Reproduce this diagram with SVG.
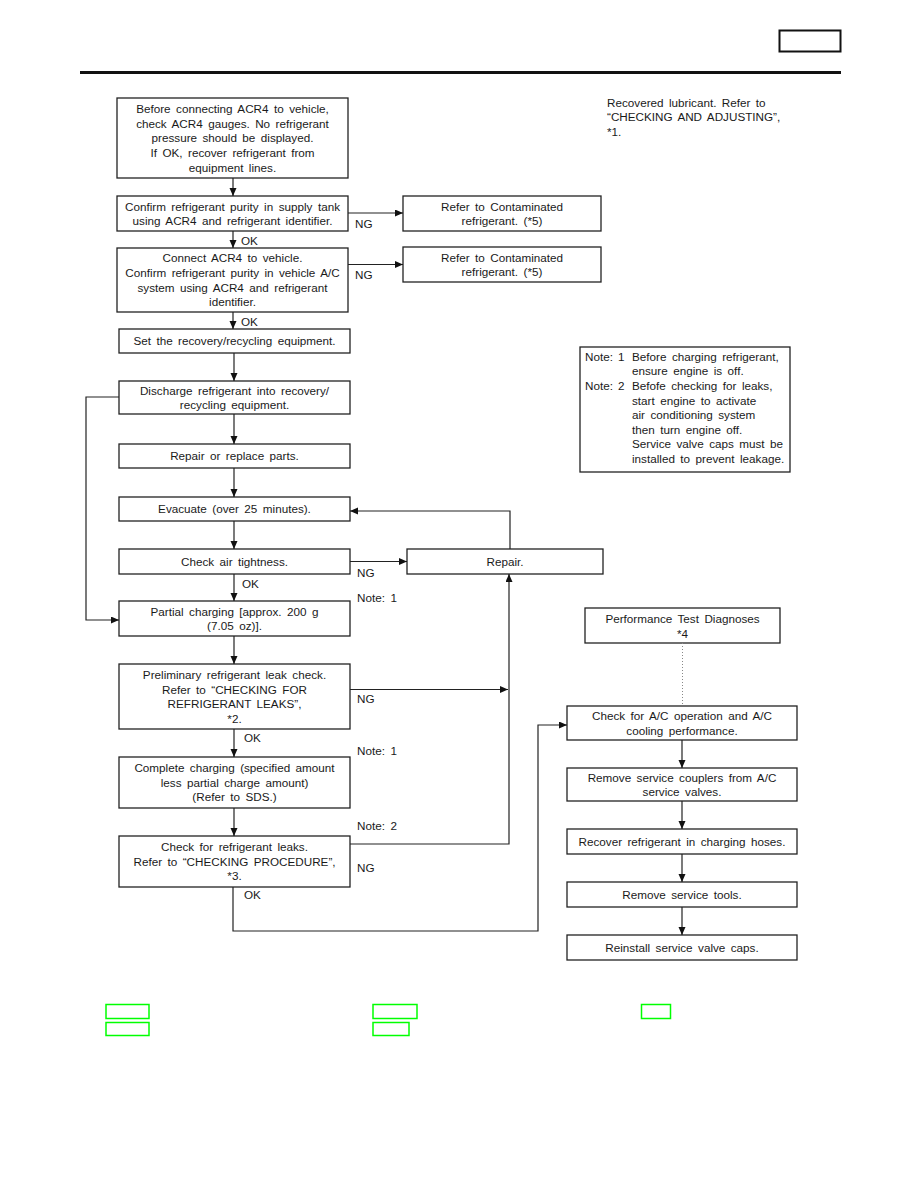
<svg xmlns="http://www.w3.org/2000/svg" width="918" height="1188" viewBox="0 0 918 1188">
<style>
text{font-family:"Liberation Sans",Arial,Helvetica,sans-serif;font-size:11.7px;fill:#1a1a1a;word-spacing:2.2px}
.c{text-anchor:middle}
.nt{word-spacing:1.6px}
.box{fill:#fff;stroke:#222;stroke-width:1.3}
.ln{fill:none;stroke:#222;stroke-width:1.2}
.dot{fill:none;stroke:#888;stroke-width:1;stroke-dasharray:1 2}
.g{fill:none;stroke:#00ff00;stroke-width:1.5}
</style>
<defs>
<marker id="ah" markerUnits="userSpaceOnUse" markerWidth="8" markerHeight="8" refX="8" refY="3.5" orient="auto">
<path d="M0,0 L8,3.5 L0,7 z" fill="#111"/>
</marker>
</defs>
<rect width="918" height="1188" fill="#fff"/>
<g id="header">
<rect x="779.5" y="30.5" width="61" height="21" fill="none" stroke="#111" stroke-width="2"/>
<line x1="80" y1="72.5" x2="841" y2="72.5" stroke="#111" stroke-width="3.2"/>
</g>
<g id="recovered-note" class="nt">
<text x="607" y="106.7">Recovered lubricant. Refer to</text>
<text x="607" y="121.3">“CHECKING AND ADJUSTING”,</text>
<text x="607" y="136">*1.</text>
</g>
<g id="notes" class="nt">
<rect class="box" x="580" y="347" width="210" height="125"/>
<text x="585" y="360.7">Note:</text><text x="618" y="360.7">1</text><text x="632" y="360.7">Before charging refrigerant,</text>
<text x="632" y="375.3">ensure engine is off.</text>
<text x="585" y="390">Note:</text><text x="618" y="390">2</text><text x="632" y="390">Befofe checking for leaks,</text>
<text x="632" y="404.6">start engine to activate</text>
<text x="632" y="419.2">air conditioning system</text>
<text x="632" y="433.8">then turn engine off.</text>
<text x="632" y="448.4">Service valve caps must be</text>
<text x="632" y="463">installed to prevent leakage.</text>
</g>
<g id="n1">
<rect class="box" x="117" y="98" width="231" height="80"/>
<text class="c" x="232.5" y="113.1">Before connecting ACR4 to vehicle,</text>
<text class="c" x="232.5" y="127.7">check ACR4 gauges. No refrigerant</text>
<text class="c" x="232.5" y="142.3">pressure should be displayed.</text>
<text class="c" x="232.5" y="156.9">If OK, recover refrigerant from</text>
<text class="c" x="232.5" y="171.5">equipment lines.</text>
</g>
<g id="n2">
<rect class="box" x="117" y="196" width="231" height="35"/>
<text class="c" x="232.5" y="210.5">Confirm refrigerant purity in supply tank</text>
<text class="c" x="232.5" y="225.1">using ACR4 and refrigerant identifier.</text>
</g>
<g id="n3">
<rect class="box" x="117" y="248" width="231" height="64"/>
<text class="c" x="232.5" y="262.4">Connect ACR4 to vehicle.</text>
<text class="c" x="232.5" y="277">Confirm refrigerant purity in vehicle A/C</text>
<text class="c" x="232.5" y="291.6">system using ACR4 and refrigerant</text>
<text class="c" x="232.5" y="306.2">identifier.</text>
</g>
<g id="r1">
<rect class="box" x="403" y="196" width="198" height="35"/>
<text class="c" x="502" y="210.5">Refer to Contaminated</text>
<text class="c" x="502" y="225.1">refrigerant. (*5)</text>
</g>
<g id="r2">
<rect class="box" x="403" y="247" width="198" height="35"/>
<text class="c" x="502" y="261.5">Refer to Contaminated</text>
<text class="c" x="502" y="276.1">refrigerant. (*5)</text>
</g>
<g id="n4">
<rect class="box" x="119" y="329" width="231" height="24"/>
<text class="c" x="234.5" y="345.3">Set the recovery/recycling equipment.</text>
</g>
<g id="n5">
<rect class="box" x="119" y="381" width="231" height="33"/>
<text class="c" x="234.5" y="394.5">Discharge refrigerant into recovery/</text>
<text class="c" x="234.5" y="409.1">recycling equipment.</text>
</g>
<g id="n6">
<rect class="box" x="119" y="444" width="231" height="24"/>
<text class="c" x="234.5" y="460.3">Repair or replace parts.</text>
</g>
<g id="n7">
<rect class="box" x="119" y="497" width="231" height="24"/>
<text class="c" x="234.5" y="513.3">Evacuate (over 25 minutes).</text>
</g>
<g id="n8">
<rect class="box" x="119" y="549" width="231" height="25"/>
<text class="c" x="234.5" y="565.8">Check air tightness.</text>
</g>
<g id="repair">
<rect class="box" x="407" y="549" width="196" height="25"/>
<text class="c" x="505" y="565.8">Repair.</text>
</g>
<g id="n9">
<rect class="box" x="119" y="601" width="231" height="35"/>
<text class="c" x="234.5" y="615.5">Partial charging [approx. 200 g</text>
<text class="c" x="234.5" y="630.1">(7.05 oz)].</text>
</g>
<g id="n10">
<rect class="box" x="119" y="664" width="231" height="65"/>
<text class="c" x="234.5" y="679">Preliminary refrigerant leak check.</text>
<text class="c" x="234.5" y="693.6">Refer to “CHECKING FOR</text>
<text class="c" x="234.5" y="708.2">REFRIGERANT LEAKS”,</text>
<text class="c" x="234.5" y="722.8">*2.</text>
</g>
<g id="n11">
<rect class="box" x="119" y="757" width="231" height="51"/>
<text class="c" x="234.5" y="772.2">Complete charging (specified amount</text>
<text class="c" x="234.5" y="786.8">less partial charge amount)</text>
<text class="c" x="234.5" y="801.4">(Refer to SDS.)</text>
</g>
<g id="n12">
<rect class="box" x="119" y="836" width="231" height="51"/>
<text class="c" x="234.5" y="851.2">Check for refrigerant leaks.</text>
<text class="c" x="234.5" y="865.8">Refer to “CHECKING PROCEDURE”,</text>
<text class="c" x="234.5" y="880.4">*3.</text>
</g>
<g id="p0">
<rect class="box" x="585" y="608" width="195" height="35"/>
<text class="c" x="682.5" y="623">Performance Test Diagnoses</text>
<text class="c" x="682.5" y="637.6">*4</text>
</g>
<g id="p1">
<rect class="box" x="567" y="706" width="230" height="34"/>
<text class="c" x="682" y="720">Check for A/C operation and A/C</text>
<text class="c" x="682" y="734.6">cooling performance.</text>
</g>
<g id="p2">
<rect class="box" x="567" y="768" width="230" height="33"/>
<text class="c" x="682" y="781.5">Remove service couplers from A/C</text>
<text class="c" x="682" y="796.1">service valves.</text>
</g>
<g id="p3">
<rect class="box" x="567" y="829" width="230" height="25"/>
<text class="c" x="682" y="845.8">Recover refrigerant in charging hoses.</text>
</g>
<g id="p4">
<rect class="box" x="567" y="882" width="230" height="25"/>
<text class="c" x="682" y="898.8">Remove service tools.</text>
</g>
<g id="p5">
<rect class="box" x="567" y="935" width="230" height="25"/>
<text class="c" x="682" y="951.8">Reinstall service valve caps.</text>
</g>
<g id="connectors">
<path class="ln" marker-end="url(#ah)" d="M233,178 V196"/>
<path class="ln" marker-end="url(#ah)" d="M233,231 V248"/>
<path class="ln" marker-end="url(#ah)" d="M348,213 H403"/>
<path class="ln" marker-end="url(#ah)" d="M348,264.5 H403"/>
<path class="ln" marker-end="url(#ah)" d="M233,312 V329"/>
<path class="ln" marker-end="url(#ah)" d="M234,353 V381"/>
<path class="ln" marker-end="url(#ah)" d="M234,414 V444"/>
<path class="ln" marker-end="url(#ah)" d="M234,468 V497"/>
<path class="ln" marker-end="url(#ah)" d="M234,521 V549"/>
<path class="ln" marker-end="url(#ah)" d="M350,561.5 H407"/>
<path class="ln" marker-end="url(#ah)" d="M510,549 V511 H350"/>
<path class="ln" marker-end="url(#ah)" d="M234,574 V601"/>
<path class="ln" marker-end="url(#ah)" d="M119,397 H86 V620 H119"/>
<path class="ln" marker-end="url(#ah)" d="M234,636 V664"/>
<path class="ln" marker-end="url(#ah)" d="M350,689.5 H508"/>
<path class="ln" marker-end="url(#ah)" d="M350,844 H509 V574"/>
<path class="ln" marker-end="url(#ah)" d="M234,729 V757"/>
<path class="ln" marker-end="url(#ah)" d="M234,808 V836"/>
<path class="ln" marker-end="url(#ah)" d="M233,887 V931 H538 V725 H567"/>
<path class="dot" d="M682.5,643 V706"/>
<path class="ln" marker-end="url(#ah)" d="M682,740 V768"/>
<path class="ln" marker-end="url(#ah)" d="M682,801 V829"/>
<path class="ln" marker-end="url(#ah)" d="M682,854 V882"/>
<path class="ln" marker-end="url(#ah)" d="M682,907 V935"/>
<text x="241" y="245">OK</text>
<text x="355" y="228">NG</text>
<text x="355" y="279">NG</text>
<text x="241" y="326">OK</text>
<text x="357" y="577">NG</text>
<text x="242" y="588">OK</text>
<text x="357" y="602">Note: 1</text>
<text x="357" y="702.6">NG</text>
<text x="244" y="742">OK</text>
<text x="357" y="755">Note: 1</text>
<text x="357" y="830.3">Note: 2</text>
<text x="357" y="871.6">NG</text>
<text x="244" y="899.3">OK</text>
</g>
<g id="green-marks">
<rect class="g" x="106" y="1004.5" width="43" height="14"/>
<rect class="g" x="106" y="1022.5" width="43" height="13"/>
<rect class="g" x="373" y="1004.5" width="44" height="14"/>
<rect class="g" x="373" y="1022.5" width="36" height="13"/>
<rect class="g" x="641.5" y="1004.5" width="29" height="14"/>
</g>
</svg>
